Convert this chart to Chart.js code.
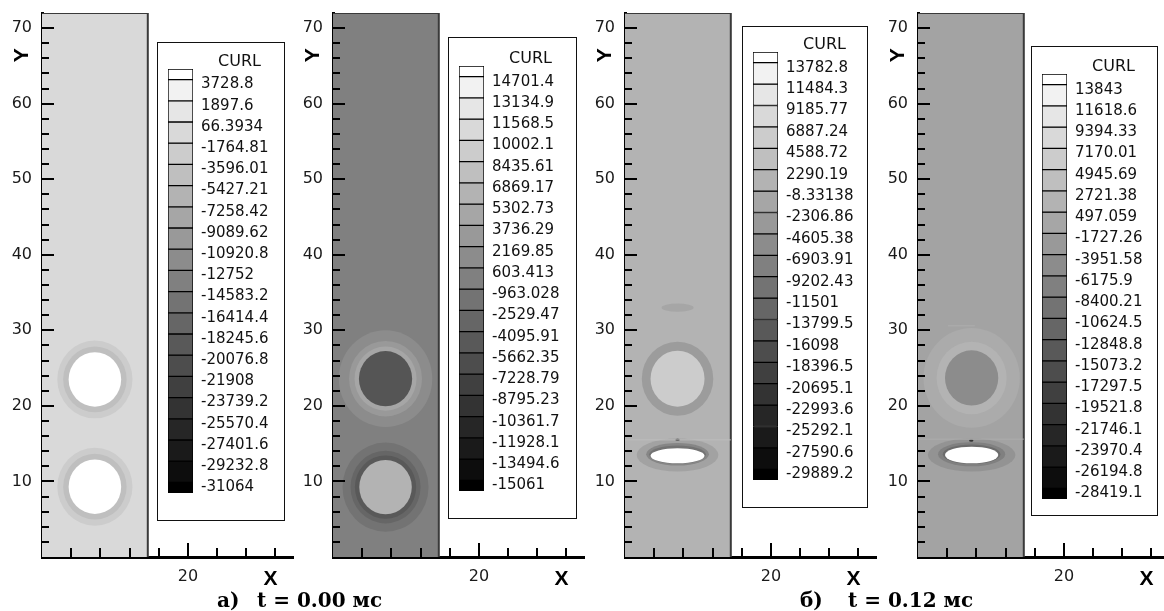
<!DOCTYPE html>
<html>
<head>
<meta charset="utf-8">
<script src="https://cdn.jsdelivr.net/npm/chart.js@4.4.1/dist/chart.umd.min.js"></script>
<style>
  html, body { margin: 0; padding: 0; background: #fff; }
  #fig { position: relative; width: 1164px; height: 611px; overflow: hidden; background: #fff; }
  #fig canvas { position: absolute; }
  .legend-box { position: absolute; border: 1px solid #111; background: #fff; box-sizing: border-box; }
  .curl { position: absolute; font: 16px 'DejaVu Sans', sans-serif; color: #111; line-height: 18px; }
  .caption { position: absolute; font: bold 20px 'DejaVu Serif', serif; color: #000; line-height: 22px; white-space: pre; }
</style>
</head>
<body>
<div id="fig"></div>
<script>
// CURL levels printed in each legend, top to bottom
const curlA = ['3728.8', '1897.6', '66.3934', '-1764.81', '-3596.01', '-5427.21', '-7258.42', '-9089.62', '-10920.8', '-12752',
  '-14583.2', '-16414.4', '-18245.6', '-20076.8', '-21908', '-23739.2', '-25570.4', '-27401.6', '-29232.8', '-31064'];
const curlB = ['14701.4', '13134.9', '11568.5', '10002.1', '8435.61', '6869.17', '5302.73', '3736.29', '2169.85', '603.413',
  '-963.028', '-2529.47', '-4095.91', '-5662.35', '-7228.79', '-8795.23', '-10361.7', '-11928.1', '-13494.6', '-15061'];
const curlC = ['13782.8', '11484.3', '9185.77', '6887.24', '4588.72', '2290.19', '-8.33138', '-2306.86', '-4605.38', '-6903.91',
  '-9202.43', '-11501', '-13799.5', '-16098', '-18396.5', '-20695.1', '-22993.6', '-25292.1', '-27590.6', '-29889.2'];
const curlD = ['13843', '11618.6', '9394.33', '7170.01', '4945.69', '2721.38', '497.059', '-1727.26', '-3951.58', '-6175.9',
  '-8400.21', '-10624.5', '-12848.8', '-15073.2', '-17297.5', '-19521.8', '-21746.1', '-23970.4', '-26194.8', '-28419.1'];

// level of the undisturbed field in each frame (index on the legend ramp)
const bgLevel = [3, 10, 6, 7.2];

// contour patches, outer first: [x, y, rx, ry, level]
const patchesA = [
  [7.25, 23.5, 5.15, 5.15, 4], [7.25, 23.5, 4.35, 4.35, 5], [7.25, 23.5, 3.6, 3.6, 0],
  [7.25, 9.3, 5.15, 5.15, 4], [7.25, 9.3, 4.35, 4.35, 5], [7.25, 9.3, 3.6, 3.6, 0]
];
const patchesB = [
  [7.2, 23.6, 6.4, 6.4, 9], [7.2, 23.6, 5.0, 5.0, 8], [7.2, 23.6, 4.25, 4.25, 7], [7.2, 23.6, 3.65, 3.65, 13.3],
  [7.2, 9.25, 5.9, 5.9, 11], [7.2, 9.25, 4.8, 4.8, 12], [7.2, 9.25, 4.2, 4.2, 13], [7.2, 9.25, 3.6, 3.6, 6]
];
const patchesC = [
  [7.2, 33.0, 2.2, 0.55, 7],
  [7.2, 23.6, 4.9, 4.9, 7.8], [7.2, 23.6, 3.7, 3.7, 4],
  [7.2, 13.5, 5.6, 2.2, 7.3], [7.2, 13.6, 4.3, 1.5, 9.5], [7.2, 13.55, 3.9, 1.2, 11], [7.2, 13.4, 3.7, 1.0, 0],
  [7.2, 15.5, 0.3, 0.15, 16]
];
const patchesD = [
  [7.35, 23.7, 6.6, 6.6, 6.6], [7.35, 23.7, 4.8, 4.8, 6], [7.35, 23.7, 3.65, 3.65, 9],
  [7.35, 13.5, 6.0, 2.2, 8.5], [7.35, 13.6, 4.6, 1.6, 10], [7.35, 13.6, 3.95, 1.3, 11.5], [7.35, 13.5, 3.65, 1.1, 0],
  [7.3, 15.4, 0.3, 0.15, 16]
];

// thin streaks in the field: [x1, x2, y]
const streaksA = [];
const streaksB = [];
const streaksC = [[0, 14.5, 15.5]];
const streaksD = [[0, 14.5, 15.6], [4.1, 7.8, 30.6]];

// field rectangle and axes
const fieldW = 14.5;
const fieldH = 72;
const xMax = 34.4;
const xTicks = [4, 8, 12, 16, 20, 24, 28, 32];
const xTickLabels = ['', '', '', '', '20', '', '', ''];
const yTicks = [2, 4, 6, 8, 10, 12, 14, 16, 18, 20, 22, 24, 26, 28, 30, 32, 34, 36, 38, 40,
  42, 44, 46, 48, 50, 52, 54, 56, 58, 60, 62, 64, 66, 68, 70];
const yMajor = [10, 20, 30, 40, 50, 60, 70];
const yTickLabels = yTicks.map(v => yMajor.includes(v) ? String(v) : '');
const xTitle = 'X', xTitleAt = 31.3;
const yTitle = 'Y', yTitleAt = 66.4;

const captions = [
  { tag: 'а)', time: 't = 0.00 мс', tagLeft: 217, timeLeft: 257 },
  { tag: 'б)', time: 't = 0.12 мс', tagLeft: 800, timeLeft: 848 }
];

// page placement of the four frames
const frames = [
  { axisX: 42,  box: [157, 42, 285, 521],  bar: [168, 69, 493] },
  { axisX: 333, box: [448, 37, 577, 519],  bar: [459, 66, 491] },
  { axisX: 625, box: [742, 26, 868, 508],  bar: [753, 52, 480] },
  { axisX: 918, box: [1031, 46, 1158, 516], bar: [1042, 74, 499] }
];
const panels = [
  { curl: curlA, bg: bgLevel[0], patches: patchesA, streaks: streaksA },
  { curl: curlB, bg: bgLevel[1], patches: patchesB, streaks: streaksB },
  { curl: curlC, bg: bgLevel[2], patches: patchesC, streaks: streaksC },
  { curl: curlD, bg: bgLevel[3], patches: patchesD, streaks: streaksD }
];

function grey(level) {
  const g = Math.max(0, Math.min(255, Math.round(255 - level * 12.75)));
  return `rgb(${g},${g},${g})`;
}

// filled contour patches, painted right after the field rectangle
const contourPlugin = {
  id: 'contours',
  afterDatasetDraw(chart, args, opts) {
    if (!chart.data.datasets[args.index].isField) return;
    const { ctx, chartArea: a, scales: { x, y } } = chart;
    ctx.save();
    ctx.beginPath();
    ctx.rect(a.left, a.top, a.width, a.height);
    ctx.clip();
    for (const [cx, cy, rx, ry, lev] of opts.patches) {
      const px = x.getPixelForValue(cx), py = y.getPixelForValue(cy);
      const prx = Math.abs(x.getPixelForValue(cx + rx) - px);
      const pry = Math.abs(y.getPixelForValue(cy + ry) - py);
      ctx.fillStyle = grey(lev);
      ctx.beginPath();
      ctx.ellipse(px, py, prx, pry, 0, 0, Math.PI * 2);
      ctx.fill();
    }
    ctx.restore();
  }
};

// tecplot style ticks pointing into the plot + axis letters
const axisPlugin = {
  id: 'inwardTicks',
  afterDraw(chart) {
    const { ctx, chartArea: a, scales: { x, y } } = chart;
    ctx.save();
    ctx.strokeStyle = '#000';
    ctx.lineWidth = 2;
    x.ticks.forEach(t => {
      const px = Math.round(x.getPixelForValue(t.value));
      const len = t.label ? 14 : 9;
      ctx.beginPath(); ctx.moveTo(px, a.bottom); ctx.lineTo(px, a.bottom - len); ctx.stroke();
    });
    y.ticks.forEach(t => {
      const py = Math.round(y.getPixelForValue(t.value));
      const len = t.label ? 12 : 7;
      ctx.beginPath(); ctx.moveTo(a.left, py); ctx.lineTo(a.left + len, py); ctx.stroke();
    });
    ctx.fillStyle = '#000';
    ctx.font = 'bold 21px "Liberation Sans", Arial, sans-serif';
    ctx.textAlign = 'center';
    ctx.textBaseline = 'middle';
    ctx.fillText(xTitle, x.getPixelForValue(xTitleAt), a.bottom + 22);
    ctx.translate(a.left - 20, y.getPixelForValue(yTitleAt));
    ctx.rotate(-Math.PI / 2);
    ctx.fillText(yTitle, 0, 0);
    ctx.restore();
  }
};

function makeField(canvas, p) {
  const datasets = p.streaks.map(s => ({
    data: [{ x: s[0], y: s[2] }, { x: s[1], y: s[2] }],
    borderColor: grey(p.bg - 0.8), borderWidth: 1, pointRadius: 0, fill: false, order: 0
  }));
  datasets.push({
    isField: true,
    data: [{ x: 0, y: fieldH }, { x: fieldW, y: fieldH }, { x: fieldW, y: 0 }],
    borderColor: '#3a3a3a', borderWidth: 2, pointRadius: 0,
    fill: 'origin', backgroundColor: grey(p.bg), order: 1
  });
  const tickFont = { family: 'DejaVu Sans', size: 16 };
  new Chart(canvas, {
    type: 'line',
    data: { datasets },
    options: {
      responsive: false, animation: false, events: [],
      layout: { padding: { top: 13, right: 4, left: 0, bottom: 0 } },
      plugins: { legend: { display: false }, tooltip: { enabled: false }, contours: { patches: p.patches } },
      scales: {
        x: {
          type: 'linear', min: 0, max: xMax, z: 1,
          grid: { display: false, drawTicks: false },
          border: { display: true, color: '#000', width: 3 },
          afterBuildTicks: s => { s.ticks = xTicks.map(v => ({ value: v })); },
          afterFit: s => { s.height = 54; s.paddingLeft = 0; s.paddingRight = 0; },
          ticks: { padding: 10, color: '#1a1a1a', font: tickFont, maxRotation: 0, autoSkip: false,
            callback: (v, i) => xTickLabels[i] }
        },
        y: {
          type: 'linear', min: 0, max: fieldH, z: 1,
          grid: { display: false, drawTicks: false },
          border: { display: true, color: '#000', width: 3 },
          afterBuildTicks: s => { s.ticks = yTicks.map(v => ({ value: v })); },
          afterFit: s => { s.width = 45; s.paddingTop = 0; s.paddingBottom = 0; },
          ticks: { padding: 10, color: '#1a1a1a', font: tickFont, autoSkip: false,
            callback: (v, i) => yTickLabels[i] }
        }
      }
    },
    plugins: [contourPlugin, axisPlugin]
  });
}

function makeColorbar(canvas, labels, barW) {
  const vals = labels.map(Number);
  const n = vals.length;
  const step = (vals[0] - vals[n - 1]) / (n - 1);
  const cells = [[vals[0], vals[0] + step / 2]];
  for (let i = 1; i < n; i++) cells.push([vals[i], vals[i - 1]]);
  cells.push([vals[n - 1] - step / 2, vals[n - 1]]);
  new Chart(canvas, {
    type: 'bar',
    data: {
      labels: ['CURL'],
      datasets: cells.map((c, i) => ({
        data: [c],
        backgroundColor: grey(i),
        borderColor: '#000',
        borderWidth: 1,
        borderSkipped: false,
        grouped: false,
        barPercentage: 1,
        categoryPercentage: 1
      }))
    },
    options: {
      responsive: false, animation: false, events: [],
      layout: { padding: { top: 10, bottom: 10, left: 0, right: 0 } },
      plugins: { legend: { display: false }, tooltip: { enabled: false } },
      scales: {
        x: { display: false },
        y: {
          position: 'right',
          min: vals[n - 1] - step / 2, max: vals[0] + step / 2,
          grid: { display: false, drawTicks: false },
          border: { display: false },
          afterBuildTicks: s => { s.ticks = vals.map(v => ({ value: v })); },
          afterFit: s => { s.width = canvas.width - barW; s.paddingTop = 0; s.paddingBottom = 0; },
          ticks: { padding: 8, labelOffset: 5, color: '#111', autoSkip: false,
            font: { family: 'DejaVu Sans', size: 15 },
            callback: (v, i) => labels[i] }
        }
      }
    }
  });
}

const fig = document.getElementById('fig');
panels.forEach((p, i) => {
  const f = frames[i];

  const plot = document.createElement('canvas');
  plot.width = 300; plot.height = 611;
  plot.style.left = (f.axisX - 45) + 'px';
  plot.style.top = '0px';
  fig.appendChild(plot);
  makeField(plot, p);

  const box = document.createElement('div');
  box.className = 'legend-box';
  box.style.left = f.box[0] + 'px';
  box.style.top = f.box[1] + 'px';
  box.style.width = (f.box[2] - f.box[0]) + 'px';
  box.style.height = (f.box[3] - f.box[1]) + 'px';
  fig.appendChild(box);

  const bar = document.createElement('canvas');
  bar.width = f.box[2] - f.bar[0] - 2;
  bar.height = f.bar[2] - f.bar[1] + 20;
  bar.style.left = f.bar[0] + 'px';
  bar.style.top = (f.bar[1] - 10) + 'px';
  fig.appendChild(bar);
  makeColorbar(bar, p.curl, 25);

  const title = document.createElement('div');
  title.className = 'curl';
  title.textContent = 'CURL';
  title.style.left = (f.bar[0] + 50) + 'px';
  title.style.top = (f.bar[1] - 17) + 'px';
  fig.appendChild(title);
});

captions.forEach(c => {
  [[c.tag, c.tagLeft], [c.time, c.timeLeft]].forEach(([txt, left]) => {
    const d = document.createElement('div');
    d.className = 'caption';
    d.textContent = txt;
    d.style.left = left + 'px';
    d.style.top = '589px';
    fig.appendChild(d);
  });
});
</script>
</body>
</html>
